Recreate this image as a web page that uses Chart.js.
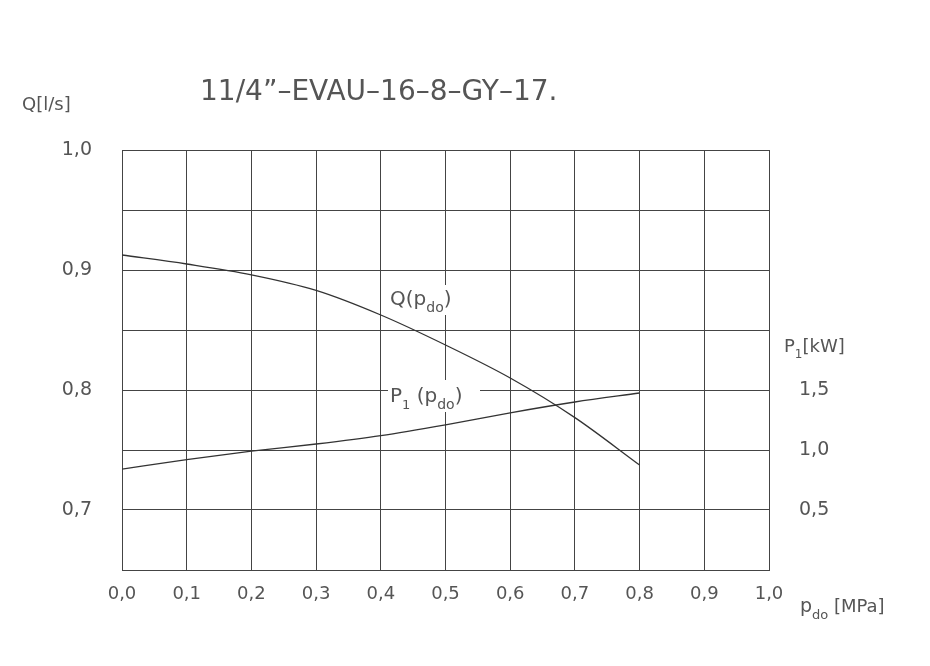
<!DOCTYPE html>
<html>
<head>
<meta charset="utf-8">
<script src="https://cdn.jsdelivr.net/npm/chart.js@4"></script>
<style>
  body { margin: 0; background: #fff; }
  #wrap { width: 930px; height: 666px; }
</style>
</head>
<body>
<div id="wrap"><canvas id="chart"></canvas></div>
<script>
const pressure = [0.0, 0.1, 0.2, 0.3, 0.4, 0.5, 0.6, 0.7, 0.8];
const flowQ = [0.9125, 0.905, 0.896, 0.883, 0.8625, 0.8375, 0.81, 0.777, 0.7375];
const powerP1 = [0.84, 0.92, 0.99, 1.05, 1.12, 1.21, 1.31, 1.40, 1.475];
const qTicks = [0.7, 0.8, 0.9, 1.0];
const pTicks = [0.5, 1.0, 1.5];

const ink = '#555';
const fontName = '"DejaVu Sans", sans-serif';
const comma = (v, d) => v.toFixed(d).replace('.', ',');
const near = (v, list) => list.some((t) => Math.abs(t - v) < 1e-6);

// write a run of [text, size, dy] pieces one after another
function runText(c, x, y, parts) {
    parts.forEach(([t, size, dy]) => {
        c.font = size + 'px ' + fontName;
        c.fillText(t, x, y + dy);
        x += c.measureText(t).width;
    });
}

// Titles and curve labels drawn on top of the chart
const labelsPlugin = {
    id: 'labels',
    afterDraw(chart) {
        const c = chart.ctx;
        c.save();
        c.fillStyle = ink;
        c.textBaseline = 'alphabetic';
        runText(c, 200, 100, [['11/4\u201D\u2013EVAU\u201316\u20138\u2013GY\u201317.', 28, 0]]);
        runText(c, 22, 110, [['Q[l/s]', 18, 0]]);
        runText(c, 784, 352, [['P', 18, 0], ['1', 12, 6], ['[kW]', 18, 0]]);
        runText(c, 800, 612, [['p', 19, 0], ['do', 13, 7], [' [MPa]', 18, 0]]);

        // white boxes behind curve labels
        c.fillStyle = '#fff';
        c.fillRect(388, 285, 78, 30);
        c.fillRect(388, 380, 92, 32);
        c.fillStyle = ink;
        runText(c, 390, 305, [['Q(p', 20, 0], ['do', 14, 7], [')', 20, 0]]);
        runText(c, 390, 402, [['P', 20, 0], ['1', 13, 7], [' (p', 20, 0], ['do', 14, 7], [')', 20, 0]]);
        c.restore();
    }
};

new Chart(document.getElementById('chart'), {
    type: 'line',
    data: {
        datasets: [{
            label: 'Q',
            data: pressure.map((p, i) => ({ x: p, y: flowQ[i] })),
            yAxisID: 'y',
            borderColor: '#333',
            borderWidth: 1.3,
            pointRadius: 0,
            cubicInterpolationMode: 'monotone'
        }, {
            label: 'P1',
            data: pressure.map((p, i) => ({ x: p, y: powerP1[i] })),
            yAxisID: 'y2',
            borderColor: '#333',
            borderWidth: 1.3,
            pointRadius: 0,
            cubicInterpolationMode: 'monotone'
        }]
    },
    options: {
        responsive: true,
        maintainAspectRatio: false,
        animation: false,
        layout: { padding: { top: 150, left: 0, right: 0, bottom: 0 } },
        plugins: { legend: { display: false }, tooltip: { enabled: false } },
        scales: {
            x: {
                type: 'linear', min: 0, max: 1,
                ticks: { stepSize: 0.1, color: ink, font: { size: 18, family: fontName }, padding: 14,
                    callback: (v) => comma(v, 1) },
                grid: { color: '#444', lineWidth: 1, drawTicks: false },
                border: { color: '#444' },
                afterFit: (s) => { s.height = 96; }
            },
            y: {
                position: 'left', min: 0.65, max: 1.0,
                ticks: { stepSize: 0.05, color: ink, font: { size: 19, family: fontName }, padding: 30,
                    callback: (v) => near(v, qTicks) ? comma(v, 1) : '' },
                grid: { color: '#444', lineWidth: 1, drawTicks: false },
                border: { color: '#444' },
                afterFit: (s) => { s.width = 122; }
            },
            y2: {
                position: 'right', min: 0, max: 3.5,
                ticks: { stepSize: 0.5, color: ink, font: { size: 19, family: fontName }, padding: 30,
                    callback: (v) => near(v, pTicks) ? comma(v, 1) : '' },
                grid: { display: false, drawTicks: false },
                border: { display: false },
                afterFit: (s) => { s.width = 161; }
            }
        }
    },
    plugins: [labelsPlugin]
});
</script>
</body>
</html>
